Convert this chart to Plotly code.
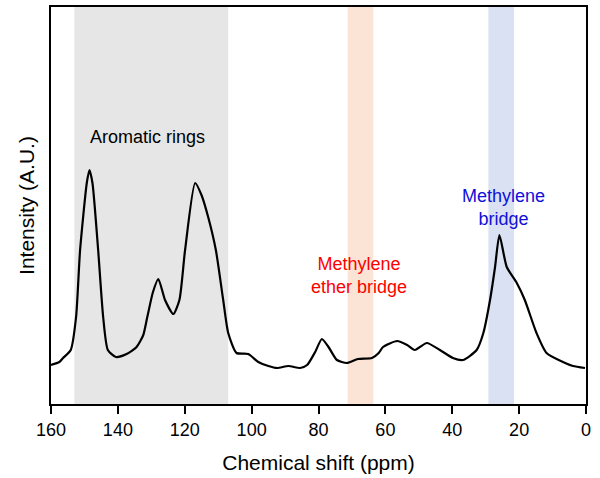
import plotly.graph_objects as go

# Chemical shift (ppm) and intensity (arbitrary units)
ppm = [160, 157.5, 156.4, 154.1, 152.5, 151.3, 149.3, 148.5, 147.6, 145.9, 144.4, 143.0,
       140.6, 137.4, 134.4, 132.4, 131.2, 129.5, 127.9, 125.9, 123.4, 121.6, 119.9, 116.9,
       115.0, 113.0, 110.7, 108.5, 107.0, 104.5, 101.0, 98, 95, 92.4, 89, 85.5, 83.4, 81,
       79, 77, 74.5, 71.5, 68.2, 64, 62, 60.7, 56.5, 53.5, 51.2, 47.6, 43.7, 39.8, 36.8,
       32.7, 30.7, 28.7, 27.2, 25.9, 23.7, 20.7, 18.3, 14.8, 11.8, 6.9, 3.9, 0.3]
py = [365, 362, 358, 350, 317, 250, 183, 170, 183, 250, 317, 350,
      357, 354, 347, 335, 317, 292, 279, 300, 314, 300, 250, 183,
      195, 217, 250, 300, 333, 353, 354, 362, 366, 368, 366, 368, 365, 352,
      339, 347, 360, 363, 359, 358, 353, 347, 341, 345, 350, 343, 350, 358, 360,
      350, 333, 300, 267, 235, 267, 283, 300, 333, 353, 362, 366, 368]
intensity = [404 - v for v in py]

# Shaded regions (ppm)
regions = [(153, 107, "rgb(230,230,230)"), (71.3, 63.6, "rgb(251,228,213)"), (29.2, 21.5, "rgb(217,225,242)")]

labels = [
    ("Aromatic rings", 131, 267, "black"),
    ("Methylene<br>ether bridge", 67.9, 129, "#ff0000"),
    ("Methylene<br>bridge", 24.8, 197, "#1010d8"),
]

fig = go.Figure()
for x0, x1, c in regions:
    fig.add_shape(type="rect", xref="x", yref="paper", x0=x0, x1=x1, y0=0, y1=1,
                  fillcolor=c, line=dict(width=0), layer="below")

fig.add_trace(go.Scatter(x=ppm, y=intensity, mode="lines",
                         line=dict(color="black", width=2.2, shape="spline", smoothing=0.6),
                         showlegend=False, hoverinfo="skip"))

for t, x, y, c in labels:
    fig.add_annotation(x=x, y=y, text=t, showarrow=False,
                       font=dict(size=18, color=c, family="Liberation Sans, Arial"))

fig.update_layout(
    width=600, height=478,
    margin=dict(l=51, r=14, t=7, b=74, autoexpand=False),
    plot_bgcolor="white", paper_bgcolor="white",
    font=dict(family="Liberation Sans, Arial", color="black"),
)
fig.update_xaxes(range=[160, 0], tickvals=[160, 140, 120, 100, 80, 60, 40, 20, 0],
                 ticks="outside", ticklen=8, tickwidth=2, tickcolor="black",
                 showline=True, linecolor="black", linewidth=2, mirror=True,
                 showgrid=False, zeroline=False, tickfont=dict(size=18), automargin=False,
                 title=dict(text="Chemical shift (ppm)", font=dict(size=21), standoff=17))
fig.update_yaxes(range=[0, 397], showticklabels=False, ticks="",
                 showline=True, linecolor="black", linewidth=2, mirror=True,
                 showgrid=False, zeroline=False, automargin=False,
                 title=dict(text="Intensity (A.U.)", font=dict(size=21), standoff=9))

fig.write_html("out.html", config={"displayModeBar": False},
               post_script="document.body.style.margin='0';")
